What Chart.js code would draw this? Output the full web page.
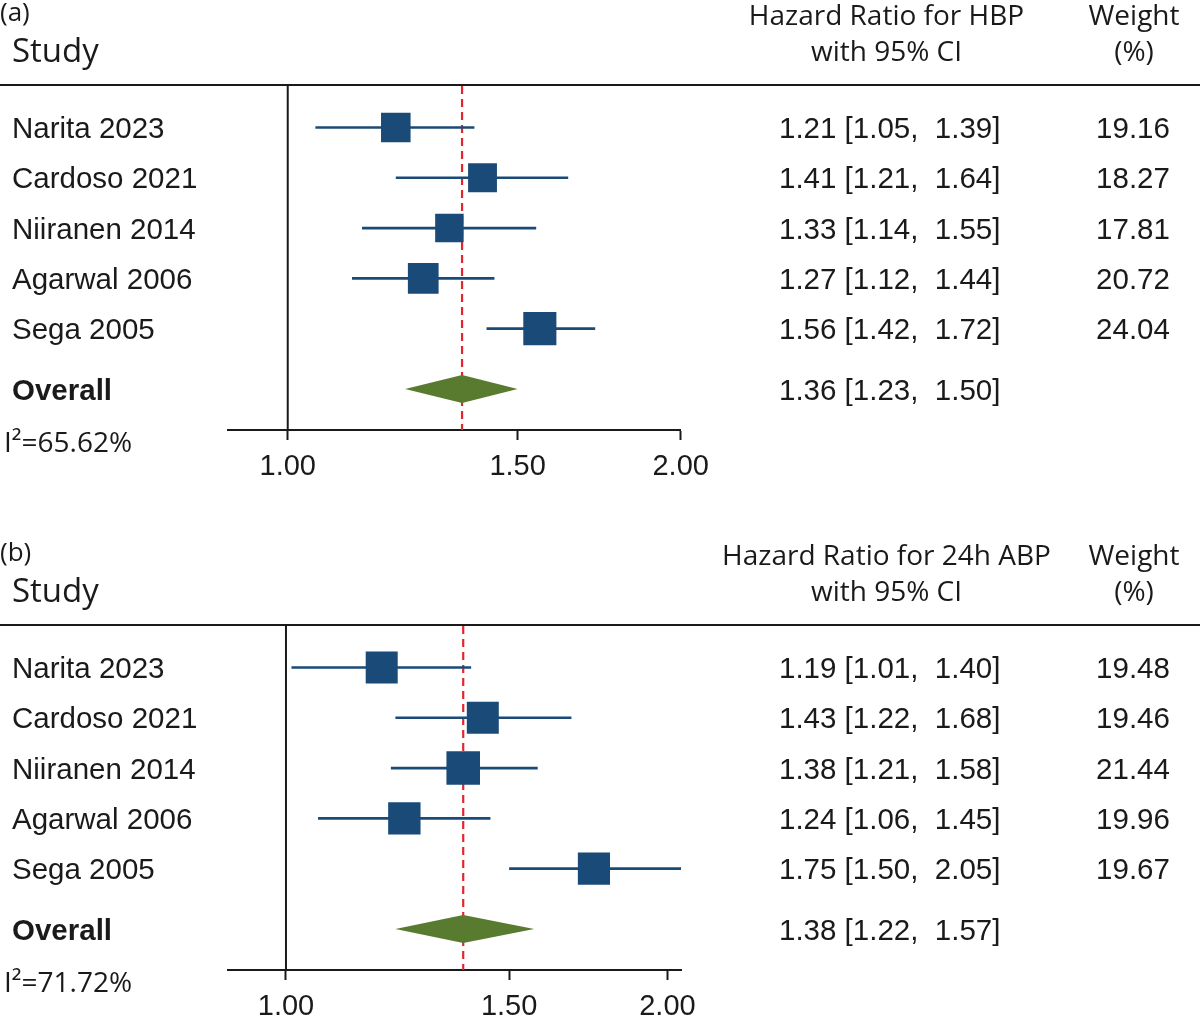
<!DOCTYPE html>
<html>
<head>
<meta charset="utf-8">
<script src="https://cdn.jsdelivr.net/npm/chart.js@4.4.1/dist/chart.umd.min.js"></script>
<style>
html,body{margin:0;padding:0;background:#fff;overflow:hidden;width:1200px;height:1016px}
.panel{position:relative;width:1200px;height:540px}
</style>
</head>
<body>
<div class="panel"><canvas id="ca"></canvas></div>
<div class="panel"><canvas id="cb"></canvas></div>
<script>
// ---------- DATA ----------
const studies = ['Narita 2023', 'Cardoso 2021', 'Niiranen 2014', 'Agarwal 2006', 'Sega 2005'];
const tickValues = [1.00, 1.50, 2.00];

// Panel (a): HBP
const hrA = [1.21, 1.41, 1.33, 1.27, 1.56];
const loA = [1.05, 1.21, 1.14, 1.12, 1.42];
const hiA = [1.39, 1.64, 1.55, 1.44, 1.72];
const weightA = [19.16, 18.27, 17.81, 20.72, 24.04];
const overallA = [1.36, 1.23, 1.50]; // estimate, lower, upper
const i2A = '65.62%';

// Panel (b): 24h ABP
const hrB = [1.19, 1.43, 1.38, 1.24, 1.75];
const loB = [1.01, 1.22, 1.21, 1.06, 1.50];
const hiB = [1.40, 1.68, 1.58, 1.45, 2.05];
const weightB = [19.48, 19.46, 21.44, 19.96, 19.67];
const overallB = [1.38, 1.22, 1.57];
const i2B = '71.72%';

// ---------- STYLE ----------
const TXT = '#1a1a1a';
const BLUE = '#1a4a78';
const GREEN = '#597b2f';
const RED = '#e2262c';
const F_ARIAL = '"Liberation Sans", Arial, sans-serif';
const F_HEAD = '"Open Sans", "Noto Sans", sans-serif';
const OVERALL_Y = 6.2;
const DY = 2.5; // baseline nudge for text

function makePanel(canvasId, p) {
  const sq = {
    label: 'studies',
    data: p.hr.map((v, i) => ({x: v, y: i + 1})),
    pointStyle: 'rect',
    pointRadius: p.weight.map(w => p.sqFactor * Math.sqrt(w) / Math.SQRT2),
    pointHoverRadius: p.weight.map(w => p.sqFactor * Math.sqrt(w) / Math.SQRT2),
    backgroundColor: BLUE,
    borderColor: BLUE,
    borderWidth: 0,
    showLine: false
  };
  const ciSets = p.hr.map((v, i) => ({
    label: 'ci' + i,
    data: [{x: p.lo[i], y: i + 1}, {x: p.hi[i], y: i + 1}],
    showLine: true,
    borderColor: BLUE,
    borderWidth: 2.6,
    borderCapStyle: 'butt',
    pointRadius: 0,
    pointHoverRadius: 0
  }));

  const forestPlugin = {
    id: 'forest' + canvasId,
    beforeDatasetsDraw(chart) {
      const {ctx, chartArea: a, scales: {x, y}} = chart;
      ctx.save();
      // header rule
      ctx.strokeStyle = TXT; ctx.lineWidth = 2;
      ctx.beginPath(); ctx.moveTo(0, a.top); ctx.lineTo(1200, a.top); ctx.stroke();
      // line of no effect
      const x1 = x.getPixelForValue(1);
      ctx.beginPath(); ctx.moveTo(x1, a.top); ctx.lineTo(x1, a.bottom); ctx.stroke();
      // overall dashed line
      const xo = x.getPixelForValue(p.overall[0]);
      ctx.strokeStyle = RED; ctx.lineWidth = 2.2; ctx.setLineDash([8, 5]);
      ctx.beginPath(); ctx.moveTo(xo, a.top + 1); ctx.lineTo(xo, a.bottom); ctx.stroke();
      ctx.setLineDash([]);
      // diamond
      const yo = y.getPixelForValue(OVERALL_Y);
      const xl = x.getPixelForValue(p.overall[1]);
      const xr = x.getPixelForValue(p.overall[2]);
      ctx.fillStyle = GREEN;
      ctx.beginPath();
      ctx.moveTo(xl, yo); ctx.lineTo(xo, yo - 14); ctx.lineTo(xr, yo); ctx.lineTo(xo, yo + 14);
      ctx.closePath(); ctx.fill();
      ctx.restore();
    },
    afterDraw(chart) {
      const {ctx, chartArea: a, scales: {y}} = chart;
      ctx.save();
      ctx.fillStyle = TXT;
      ctx.textBaseline = 'middle';
      // panel letter and headers
      ctx.textAlign = 'left';
      ctx.font = '26px ' + F_HEAD;
      ctx.fillText(p.letter, 0, 14);
      ctx.font = '33px ' + F_HEAD;
      ctx.fillText('Study', 12, 53);
      ctx.textAlign = 'center';
      ctx.font = '28px ' + F_HEAD;
      ctx.fillText(p.header1, 886.5, 17);
      ctx.fillText('with 95% CI', 886.5, 53);
      ctx.fillText('Weight', 1134, 17);
      ctx.fillText('(%)', 1134, 53);
      // rows
      ctx.font = '29.5px ' + F_ARIAL;
      studies.forEach((s, i) => {
        const yy = y.getPixelForValue(i + 1) + DY;
        ctx.textAlign = 'left';
        ctx.fillText(s, 12, yy);
        ctx.fillText(`${p.hr[i].toFixed(2)} [${p.lo[i].toFixed(2)},  ${p.hi[i].toFixed(2)}]`, 779, yy);
        ctx.textAlign = 'center';
        ctx.fillText(p.weight[i].toFixed(2), 1133, yy);
      });
      const yo = y.getPixelForValue(OVERALL_Y) + DY;
      ctx.textAlign = 'left';
      ctx.font = 'bold 29.5px ' + F_ARIAL;
      ctx.fillText('Overall', 12, yo);
      ctx.font = '29.5px ' + F_ARIAL;
      ctx.fillText(`${p.overall[0].toFixed(2)} [${p.overall[1].toFixed(2)},  ${p.overall[2].toFixed(2)}]`, 779, yo);
      // heterogeneity
      ctx.font = '28px ' + F_HEAD;
      ctx.fillText('I\u00B2=' + p.i2, 4, a.bottom + 14);
      ctx.restore();
    }
  };

  return new Chart(document.getElementById(canvasId), {
    type: 'scatter',
    data: {datasets: [sq, ...ciSets]},
    options: {
      responsive: true,
      maintainAspectRatio: false,
      animation: false,
      events: [],
      layout: {padding: {left: 228, right: p.padRight, top: 85, bottom: 50}},
      plugins: {legend: {display: false}, tooltip: {enabled: false}},
      scales: {
        x: {
          type: 'logarithmic',
          min: 0.9,
          max: p.xMax,
          afterBuildTicks: s => { s.ticks = tickValues.map(v => ({value: v})); },
          afterFit: s => { s.height = 60; },
          ticks: {
            callback: v => Number(v).toFixed(2),
            font: {family: F_ARIAL, size: 29},
            color: TXT,
            padding: 10,
            maxRotation: 0,
            autoSkip: false
          },
          grid: {drawOnChartArea: false, drawTicks: true, tickLength: 10, tickColor: TXT, tickWidth: 2},
          border: {display: true, color: TXT, width: 2}
        },
        y: {
          type: 'linear',
          min: 0.155,
          max: 7.015,
          reverse: true,
          display: false
        }
      }
    },
    plugins: [forestPlugin]
  });
}

makePanel('ca', {
  letter: '(a)', header1: 'Hazard Ratio for HBP',
  hr: hrA, lo: loA, hi: hiA, weight: weightA, overall: overallA, i2: i2A,
  xMax: 2.0, padRight: 519.3, sqFactor: 6.75
});
makePanel('cb', {
  letter: '(b)', header1: 'Hazard Ratio for 24h ABP',
  hr: hrB, lo: loB, hi: hiB, weight: weightB, overall: overallB, i2: i2B,
  xMax: 2.05, padRight: 519, sqFactor: 7.25
});
</script>
</body>
</html>
